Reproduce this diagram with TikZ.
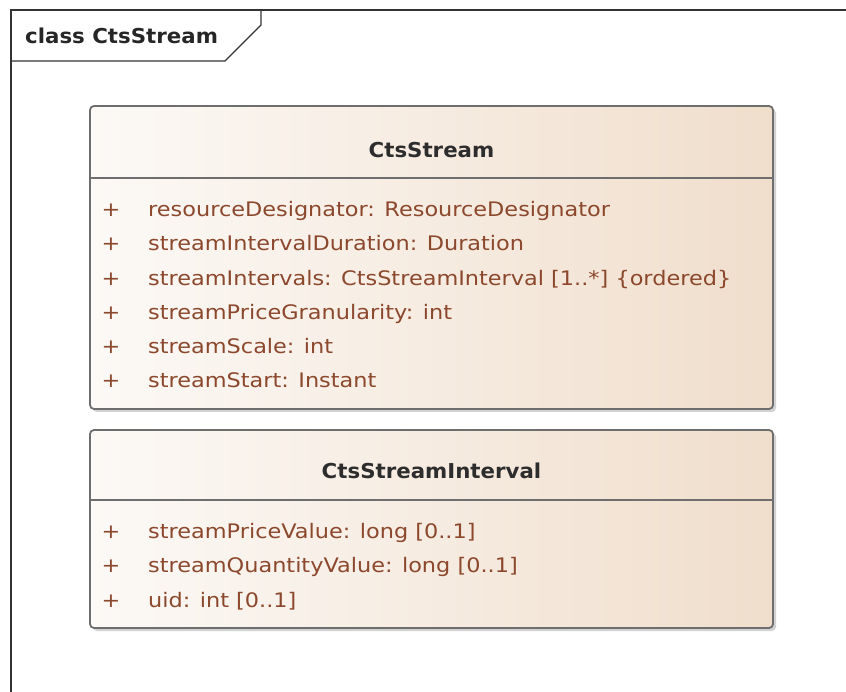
\documentclass[tikz,border=0pt]{standalone}
\usepackage{fontspec}
\setmainfont{DejaVu Sans}
\newfontfamily\umlfont[FakeStretch=1.12]{DejaVu Sans}
\newfontfamily\umlbold[FakeStretch=1.04]{DejaVu Sans Bold}
\usetikzlibrary{positioning, shadows}
\definecolor{attrbrown}{RGB}{140,72,45}
\definecolor{boxleft}{RGB}{252,249,246}
\definecolor{boxright}{RGB}{240,222,204}
\definecolor{boxline}{RGB}{110,110,110}
\definecolor{titlegray}{RGB}{45,45,45}

\begin{document}
\begin{tikzpicture}[x=1pt, y=-1pt,
  classbox/.style={draw=boxline, line width=1.8pt, rounded corners=4pt,
    left color=boxleft, right color=boxright, inner sep=0pt,
    drop shadow={shadow xshift=3pt, shadow yshift=-3pt, fill=black!22, opacity=0.8}},
  classname/.style={anchor=base, inner sep=0pt, text=titlegray, font=\fontsize{20.5}{24}\umlbold},
  attr/.style={anchor=base west, inner sep=0pt, text=attrbrown, font=\fontsize{20}{24}\umlfont},
  vis/.style={anchor=base, inner sep=0pt, text=attrbrown, font=\fontsize{20}{24}\umlfont}]
\useasboundingbox (0,0) rectangle (846,692);
% diagram frame
\draw[line width=1.4pt, black!80] (11,692) -- (11,10) -- (846,10);
\draw[line width=1.4pt, black!80] (11,61) -- (225,61) -- (261,25) -- (261,10);
\node[classname, anchor=base west, text=black!85] (frame) at (25,44) {class CtsStream};

% class CtsStream
\node[classbox, minimum width=683pt, minimum height=303pt] (stream) at (431.5,257.5) {};
\draw[boxline, line width=1.8pt] (90,178) -- (773,178);
\node[classname] (streamname) at (431.5,158) {CtsStream};
\foreach \y/\txt [count=\i] in {217/{resourceDesignator: ResourceDesignator},
    251/{streamIntervalDuration: Duration},
    285.5/{streamIntervals: CtsStreamInterval [1..*] \{ordered\}},
    320/{streamPriceGranularity: int},
    354/{streamScale: int},
    388/{streamStart: Instant}} {
  \node[vis] (sv\i) at (111,\y) {+};
  \node[attr] (sa\i) at (148,\y) {\txt};
}

% class CtsStreamInterval
\node[classbox, minimum width=683pt, minimum height=198pt] (interval) at (431.5,529) {};
\draw[boxline, line width=1.8pt] (90,500) -- (773,500);
\node[classname] (intervalname) at (431.5,478) {CtsStreamInterval};
\foreach \y/\txt [count=\i] in {538/{streamPriceValue: long [0..1]},
    572.5/{streamQuantityValue: long [0..1]},
    607/{uid: int [0..1]}} {
  \node[vis] (iv\i) at (111,\y) {+};
  \node[attr] (ia\i) at (148,\y) {\txt};
}
\end{tikzpicture}
\end{document}
